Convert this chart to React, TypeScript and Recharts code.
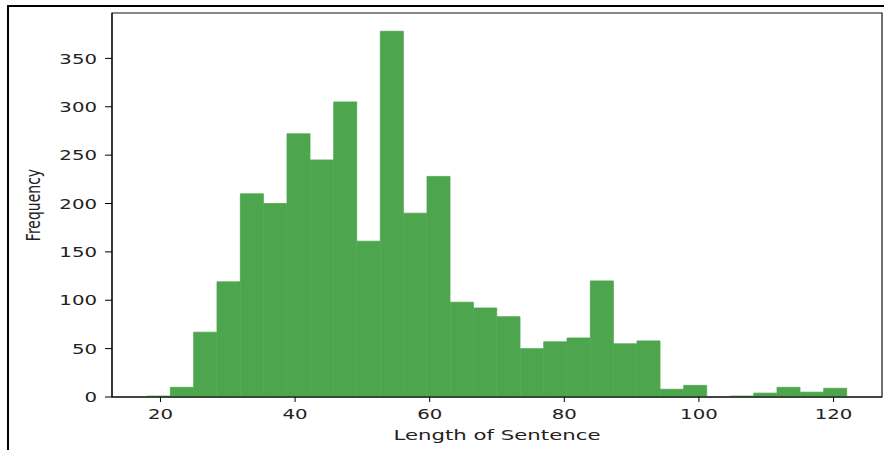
import React from "react";
import { BarChart, Bar, XAxis, YAxis, ReferenceArea } from "recharts";

// histogram bins (centres) and counts
const binCenters = [
  19.73, 23.2, 26.67, 30.13, 33.6, 37.07, 40.53, 44, 47.47, 50.93,
  54.4, 57.87, 61.33, 64.8, 68.27, 71.73, 75.2, 78.67, 82.13, 85.6,
  89.07, 92.53, 96, 99.47, 102.93, 106.4, 109.87, 113.33, 116.8, 120.27,
];
const frequencies = [
  1, 10, 67, 119, 210, 200, 272, 245, 305, 161,
  378, 190, 228, 98, 92, 83, 50, 57, 61, 120,
  55, 58, 8, 12, 0, 1, 4, 10, 5, 9,
];
const xTicks = [20, 40, 60, 80, 100, 120];
const yTicks = [0, 50, 100, 150, 200, 250, 300, 350];

const data = binCenters.map((x, i) => ({ x, count: frequencies[i] }));

const FONT = "DejaVu Sans";
const STRETCH = 1.37;

const XTick = (props: any) => {
  const { x, y, payload } = props;
  return (
    <g transform={`translate(${x},${y})`}>
      <text transform={`scale(${STRETCH},1)`} textAnchor="middle" dy={15} fill="#222" fontSize={14.4} fontFamily={FONT}>
        {payload.value}
      </text>
    </g>
  );
};

const YTick = (props: any) => {
  const { x, y, payload } = props;
  return (
    <g transform={`translate(${x},${y})`}>
      <text transform={`scale(${STRETCH},1)`} textAnchor="end" dy={5.2} fill="#222" fontSize={14.4} fontFamily={FONT}>
        {payload.value}
      </text>
    </g>
  );
};

const XLabel = (props: any) => {
  const { x, y, width } = props.viewBox;
  return (
    <text x={x + width / 2} y={y + 43} textAnchor="middle" fill="#222" fontSize={14.4} fontFamily={FONT} textLength={207} lengthAdjust="spacingAndGlyphs">
      Length of Sentence
    </text>
  );
};

const YLabel = (props: any) => {
  const { y, height } = props.viewBox;
  return (
    <text
      transform={`translate(40,${y + height / 2}) scale(${STRETCH},1) rotate(-90)`}
      textAnchor="middle"
      fill="#222"
      fontSize={14}
      fontFamily={FONT}
    >
      Frequency
    </text>
  );
};

export default function App() {
  return (
    <div style={{ position: "absolute", left: 0, top: 0, width: 884, height: 450, background: "#fff" }}>
      {/* outer frame of the screenshot */}
      <div style={{ position: "absolute", left: 7, top: 5, width: 877, height: 445, borderTop: "2px solid #000", borderLeft: "2px solid #000", boxSizing: "border-box" }} />
      <div style={{ position: "absolute", left: 0, top: 0 }}>
        <BarChart width={884} height={450} data={data} margin={{ top: 13, right: 2, bottom: 0, left: 0 }} barCategoryGap={0} barGap={0}>
          <XAxis
            type="number"
            dataKey="x"
            domain={[12.8, 127.2]}
            ticks={xTicks}
            allowDataOverflow
            height={53}
            tickSize={5}
            tickMargin={2}
            stroke="#000"
            tick={<XTick />}
            label={<XLabel />}
          />
          <YAxis
            type="number"
            domain={[0, 396.9]}
            ticks={yTicks}
            allowDataOverflow
            width={112}
            tickSize={7}
            tickMargin={8}
            stroke="#000"
            tick={<YTick />}
            label={<YLabel />}
          />
          <Bar dataKey="count" fill="#4da64d" stroke="#4da64d" strokeWidth={0.8} isAnimationActive={false} />
          <ReferenceArea x1={12.8} x2={127.2} y1={0} y2={396.9} fill="none" stroke="#111" strokeWidth={1.2} ifOverflow="extendDomain" />
        </BarChart>
      </div>
    </div>
  );
}
